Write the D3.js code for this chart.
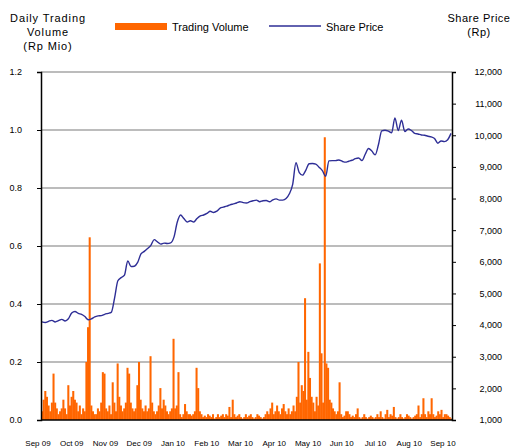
<!DOCTYPE html>
<html>
<head>
<meta charset="utf-8">
<script src="https://cdn.jsdelivr.net/npm/d3@7"></script>
<style>
  body { margin: 0; background: #fff; }
  svg { display: block; }
  text { font-family: "Liberation Sans", Arial, sans-serif; fill: #000; }
</style>
</head>
<body>
<div id="chart"></div>
<script>
// daily trading volume, Rp Mio (Sep 09 .. Sep 10)
var volume = [
  0.03, 0.07, 0.10, 0.08, 0.05, 0.03, 0.06, 0.16, 0.06, 0.04,
  0.02, 0.03, 0.04, 0.07, 0.04, 0.02, 0.12, 0.05, 0.08, 0.10,
  0.07, 0.06, 0.03, 0.05, 0.02, 0.04, 0.03, 0.20, 0.32, 0.63,
  0.05, 0.03, 0.02, 0.02, 0.04, 0.03, 0.06, 0.165, 0.16, 0.04,
  0.03, 0.05, 0.02, 0.13, 0.06, 0.03, 0.195, 0.08, 0.05, 0.03,
  0.04, 0.06, 0.18, 0.16, 0.06, 0.04, 0.03, 0.04, 0.12, 0.20,
  0.07, 0.04, 0.03, 0.05, 0.03, 0.04, 0.22, 0.06, 0.03, 0.02,
  0.03, 0.05, 0.11, 0.04, 0.07, 0.05, 0.03, 0.02, 0.03, 0.04,
  0.28, 0.04, 0.05, 0.165, 0.02, 0.01, 0.02, 0.055, 0.03, 0.02,
  0.02, 0.015, 0.02, 0.03, 0.18, 0.11, 0.03, 0.02, 0.01, 0.015,
  0.01, 0.02, 0.015, 0.01, 0.02, 0.005, 0.01, 0.02, 0.01, 0.015,
  0.02, 0.01, 0.02, 0.015, 0.045, 0.01, 0.07, 0.02, 0.01, 0.015,
  0.02, 0.01, 0.005, 0.01, 0.02, 0.01, 0.015, 0.02, 0.01, 0.005,
  0.01, 0.02, 0.015, 0.01, 0.005, 0.01, 0.02, 0.03, 0.02, 0.04,
  0.06, 0.02, 0.03, 0.05, 0.03, 0.02, 0.04, 0.055, 0.03, 0.02,
  0.04, 0.02, 0.03, 0.05, 0.03, 0.08, 0.20, 0.06, 0.12, 0.10,
  0.42, 0.07, 0.235, 0.145, 0.08, 0.06, 0.03, 0.08, 0.05, 0.54,
  0.23, 0.06, 0.975, 0.195, 0.18, 0.07, 0.06, 0.04, 0.03, 0.02,
  0.03, 0.13, 0.02, 0.01, 0.015, 0.03, 0.03, 0.02, 0.01, 0.015,
  0.01, 0.02, 0.04, 0.01, 0.005, 0.01, 0.02, 0.01, 0.005, 0.01,
  0.015, 0.01, 0.005, 0.01, 0.02, 0.01, 0.03, 0.01, 0.005, 0.02,
  0.035, 0.01, 0.02, 0.015, 0.045, 0.01, 0.005, 0.01, 0.02, 0.01,
  0.005, 0.01, 0.02, 0.015, 0.01, 0.005, 0.01, 0.015, 0.02, 0.05,
  0.01, 0.02, 0.075, 0.02, 0.01, 0.03, 0.02, 0.075, 0.02, 0.01,
  0.015, 0.03, 0.02, 0.035, 0.01, 0.02, 0.02, 0.015, 0.01, 0.005
];

// share price, Rp (every second trading day)
var price = [
  4100, 4080, 4120, 4150, 4100, 4140, 4180, 4130, 4200, 4380,
  4430, 4370, 4340, 4270, 4170, 4200, 4260, 4290, 4300, 4340,
  4370, 4400, 4850, 5400, 5500, 5580, 6030, 5850, 5860, 5980,
  6250, 6330, 6420, 6520, 6700, 6630, 6560, 6590, 6580, 6600,
  6780, 7250, 7480, 7370, 7260, 7300, 7260, 7370, 7450, 7480,
  7530, 7600, 7560, 7600, 7700, 7730, 7760, 7800, 7830, 7860,
  7900, 7870, 7860, 7900, 7930, 7950, 7900, 7930, 7940, 7900,
  7960, 7990, 7950, 7950, 8000, 8150, 8450, 9130, 8820, 8740,
  8900, 9100, 9110, 9090, 8990, 8880, 8700, 9190, 9200, 9200,
  9220, 9180, 9150, 9180, 9210, 9260, 9280, 9200, 9400, 9580,
  9500, 9380, 9700, 10140, 10160, 10130, 10080, 10550, 10150, 10480,
  10120, 10200, 10150, 10060, 10040, 10010, 10000, 9970, 9950, 9900,
  9750, 9820, 9800, 9860, 10060
];

var months = ["Sep 09", "Oct 09", "Nov 09", "Dec 09", "Jan 10", "Feb 10", "Mar 10",
              "Apr 10", "May 10", "Jun 10", "Jul 10", "Aug 10", "Sep 10"];
var volTicks = [0, 0.2, 0.4, 0.6, 0.8, 1.0, 1.2];
var priceTicks = [1000, 2000, 3000, 4000, 5000, 6000, 7000, 8000, 9000, 10000, 11000, 12000];

function drawChart() {
    var W = 510, H = 448;
    var plot = {left: 41, right: 452, top: 72, bottom: 420};

    var svg = d3.select("#chart").append("svg")
        .attr("width", W)
        .attr("height", H);

    var xBar = d3.scaleBand()
        .domain(d3.range(volume.length))
        .range([plot.left, plot.right])
        .paddingInner(0);
    var xPrice = d3.scaleLinear()
        .domain([0, price.length - 1])
        .range([plot.left + 1, plot.right - 1]);
    var xMonth = d3.scalePoint()
        .domain(months)
        .range([38, 443]);
    var yVol = d3.scaleLinear().domain([0, 1.2]).range([plot.bottom, plot.top]);
    var yPrice = d3.scaleLinear().domain([1000, 12000]).range([plot.bottom, plot.top]);

    // gridlines
    svg.append("g").selectAll("line.grid")
        .data(volTicks.filter(d => d > 0))
        .enter().append("line")
        .attr("class", "grid")
        .attr("x1", plot.left).attr("x2", plot.right)
        .attr("y1", d => yVol(d)).attr("y2", d => yVol(d))
        .attr("stroke", "#a6a6a6")
        .attr("stroke-width", 1.5);

    // volume bars
    svg.append("g").selectAll("rect.bar")
        .data(volume)
        .enter().append("rect")
        .attr("class", "bar")
        .attr("x", (d, i) => xBar(i))
        .attr("width", xBar.bandwidth() + 0.4)
        .attr("y", d => yVol(d))
        .attr("height", d => plot.bottom - yVol(d))
        .attr("fill", "#ff6600");

    // price line
    var line = d3.line()
        .x((d, i) => xPrice(i))
        .y(d => yPrice(d))
        .curve(d3.curveMonotoneX);
    svg.append("path")
        .datum(price)
        .attr("d", line)
        .attr("fill", "none")
        .attr("stroke", "#2e2e96")
        .attr("stroke-width", 1.4);

    // axes
    var yAxisL = d3.axisLeft(yVol).tickValues(volTicks).tickSize(4).tickPadding(15)
        .tickFormat(d3.format(".1f"));
    var gl = svg.append("g").attr("transform", "translate(" + plot.left + ",0)").call(yAxisL);

    var yAxisR = d3.axisRight(yPrice).tickValues(priceTicks).tickSize(4).tickPadding(46)
        .tickFormat(d3.format(","));
    var gr = svg.append("g").attr("transform", "translate(" + plot.right + ",0)").call(yAxisR);
    gr.selectAll(".tick text").attr("text-anchor", "end");

    [gl, gr].forEach(function(g) {
        g.select(".domain").attr("stroke", "#000").attr("stroke-width", 1.5);
        g.selectAll(".tick line").attr("stroke", "#000");
        g.selectAll(".tick text").attr("font-size", 9)
            .attr("font-family", "Liberation Sans, Arial, sans-serif");
    });

    svg.append("line")
        .attr("x1", plot.left).attr("x2", plot.right)
        .attr("y1", plot.bottom).attr("y2", plot.bottom)
        .attr("stroke", "#000").attr("stroke-width", 1.5);

    // month labels
    svg.append("g").selectAll("text.month")
        .data(months)
        .enter().append("text")
        .attr("class", "month")
        .attr("x", d => xMonth(d))
        .attr("y", 446)
        .attr("text-anchor", "middle")
        .attr("font-size", 8)
        .text(d => d);

    // axis titles
    var leftTitle = ["Daily Trading", "Volume", "(Rp Mio)"];
    svg.append("g").selectAll("text")
        .data(leftTitle)
        .enter().append("text")
        .attr("x", 48)
        .attr("y", (d, i) => 22 + i * 14)
        .attr("text-anchor", "middle")
        .attr("font-size", 11)
        .attr("letter-spacing", 0.9)
        .text(d => d);

    var rightTitle = ["Share Price", "(Rp)"];
    svg.append("g").selectAll("text")
        .data(rightTitle)
        .enter().append("text")
        .attr("x", 479)
        .attr("y", (d, i) => 22 + i * 14)
        .attr("text-anchor", "middle")
        .attr("font-size", 11)
        .attr("letter-spacing", 0.5)
        .text(d => d);

    // legend
    var lg = svg.append("g");
    lg.append("rect")
        .attr("x", 115).attr("y", 23).attr("width", 52).attr("height", 7)
        .attr("fill", "#ff6600");
    lg.append("text").attr("x", 172).attr("y", 31).attr("font-size", 11).text("Trading Volume");
    lg.append("line")
        .attr("x1", 269).attr("x2", 321).attr("y1", 26).attr("y2", 26)
        .attr("stroke", "#2e2e96").attr("stroke-width", 1.3);
    lg.append("text").attr("x", 326).attr("y", 31).attr("font-size", 11).text("Share Price");
}

drawChart();
</script>
</body>
</html>
